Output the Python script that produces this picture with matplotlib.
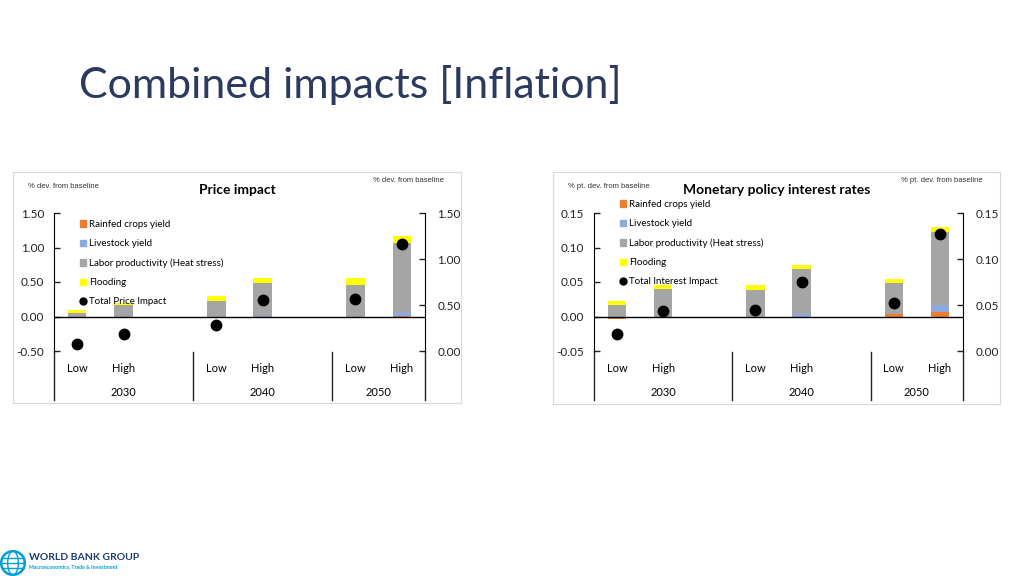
import numpy as np
import matplotlib
matplotlib.use('Agg')
import matplotlib.pyplot as plt
from matplotlib.patches import Rectangle, Patch
from matplotlib.lines import Line2D
import matplotlib.transforms as mtransforms

plt.rcParams['font.family'] = ['Lato', 'DejaVu Sans']

# ---- data ----
scenarios = ['Low', 'High', 'Low', 'High', 'Low', 'High']
years = ['2030', '2040', '2050']
slots = [0, 1, 3, 4, 6, 7]          # one blank slot between year groups

price_rainfed = [-0.01, -0.005, -0.005, 0.0, 0.0, 0.01]
price_livestock = [0.0, 0.0, 0.0, 0.01, 0.0, 0.05]
price_labor = [0.05, 0.16, 0.23, 0.47, 0.46, 1.005]
price_flood = [0.04, 0.03, 0.07, 0.075, 0.095, 0.095]
price_total = [0.08, 0.19, 0.28, 0.55, 0.56, 1.16]     # right axis

rate_rainfed = [-0.003, -0.002, 0.0, 0.0, 0.004, 0.007]
rate_livestock = [0.0, 0.0, 0.0, 0.004, 0.0, 0.009]
rate_labor = [0.016, 0.040, 0.039, 0.065, 0.044, 0.106]
rate_flood = [0.006, 0.005, 0.006, 0.006, 0.006, 0.007]
rate_total = [0.019, 0.043, 0.045, 0.075, 0.0525, 0.1275]  # right axis

COLORS = {'rain': '#ED7D31', 'live': '#8EA9DB', 'labor': '#A5A5A5', 'flood': '#FFFF00'}
W, H = 1024, 576


def fx(px):
    return px / W


def fy(py):
    return 1 - py / H


def draw_panel(fig, box, axbox, comps, total, lims, title, unit, total_label, leg_xy):
    # light frame around the chart
    x0, y0, x1, y1 = box
    fig.patches.append(Rectangle((fx(x0), fy(y1)), fx(x1 - x0), (y1 - y0) / H,
                                 transform=fig.transFigure, fill=False,
                                 ec='#D9D9D9', lw=0.8))
    ax_l, ax_r, ax_t, ax_b = axbox
    ax = fig.add_axes([fx(ax_l), fy(ax_b), fx(ax_r - ax_l), (ax_b - ax_t) / H])
    ax2 = ax.twinx()

    pos_bottom = np.zeros(len(slots))
    neg_bottom = np.zeros(len(slots))
    names = ['Rainfed crops yield', 'Livestock yield', 'Labor productivity (Heat stress)', 'Flooding']
    keys = ['rain', 'live', 'labor', 'flood']
    for vals, key in zip(comps, keys):
        v = np.array(vals)
        bottom = np.where(v >= 0, pos_bottom, neg_bottom)
        ax.bar(slots, v, bottom=bottom, width=0.4, color=COLORS[key], lw=0, zorder=2)
        pos_bottom += np.where(v >= 0, v, 0)
        neg_bottom += np.where(v < 0, v, 0)

    ax2.plot(slots, total, 'o', color='black', ms=7.5, zorder=5)

    (lmin, lmax, lstep), (rmin, rmax, rstep) = lims
    ax.set_ylim(lmin, lmax)
    ax.set_yticks(np.arange(lmin, lmax + lstep / 2, lstep))
    ax2.set_ylim(rmin, rmax)
    ax2.set_yticks(np.arange(rmin, rmax + rstep / 2, rstep))
    ax.set_xlim(-0.5, 7.5)
    ax.set_xticks([])
    ax.axhline(0, color='black', lw=1, zorder=3)

    for a in (ax, ax2):
        for s in ('top', 'bottom'):
            a.spines[s].set_visible(False)
        a.tick_params(axis='y', direction='in', length=4, width=1, labelsize=8.5, colors='#222222')
        a.yaxis.set_major_formatter(matplotlib.ticker.FormatStrFormatter('%.2f'))
        a.set_facecolor('none')
    ax.spines['right'].set_visible(False)
    ax2.spines['left'].set_visible(False)
    ax.tick_params(axis='y', pad=7)
    ax2.tick_params(axis='y', pad=9)

    # category labels below the plot
    trans = mtransforms.blended_transform_factory(ax.transData, fig.transFigure)
    for s, lab in zip(slots, scenarios):
        ax.text(s, fy(368), lab, transform=trans, ha='center', va='center', fontsize=8)
    for i, yr in enumerate(years):
        xc = [1, 4, 6.5][i]
        ax.text(xc, fy(392), yr, transform=trans, ha='center', va='center', fontsize=8)
    for xs, ytop in [(-0.5, ax_b), (2.5, 352), (5.5, 352), (7.5, ax_b)]:
        ax.add_line(Line2D([xs, xs], [fy(ytop), fy(400)], transform=trans,
                           color='#222222', lw=1, clip_on=False))

    # titles and unit notes
    fig.text(fx((x0 + x1) / 2), fy(190), title, ha='center', va='center',
             fontsize=10, fontweight='bold')
    fig.text(fx(x0 + 15), fy(186), unit, ha='left', va='center', fontsize=5.5,
             family='Liberation Sans', color='#333333')
    fig.text(fx(x1 - 17), fy(181), unit, ha='right', va='center', fontsize=5.5,
             family='Liberation Sans', color='#333333')

    handles = [Patch(color=COLORS[k]) for k in keys]
    handles.append(Line2D([], [], marker='o', color='black', ls='none', ms=5))
    fig.legend(handles, names + [total_label], loc='upper left',
               bbox_to_anchor=(fx(leg_xy[0]), fy(leg_xy[1])), frameon=False,
               fontsize=7, handlelength=0.6, handleheight=0.6, handletextpad=0.3,
               labelspacing=1.05, borderpad=0, borderaxespad=0)
    return ax, ax2


fig = plt.figure(figsize=(W / 100, H / 100), dpi=100)

fig.text(fx(79), fy(85), 'Combined impacts [Inflation]', ha='left', va='center',
         fontsize=31, color='#2B3A5E')

draw_panel(fig, (13, 172, 461, 403), (54, 425, 213, 351),
           [price_rainfed, price_livestock, price_labor, price_flood], price_total,
           ((-0.5, 1.5, 0.5), (0.0, 1.5, 0.5)), 'Price impact',
           '% dev. from baseline', 'Total Price Impact', (80, 220))

draw_panel(fig, (553, 172, 1000, 404), (594, 963, 213, 351),
           [rate_rainfed, rate_livestock, rate_labor, rate_flood], rate_total,
           ((-0.05, 0.15, 0.05), (0.0, 0.15, 0.05)), 'Monetary policy interest rates',
           '% pt. dev. from baseline', 'Total Interest Impact', (620, 200))

# logo: globe mark + wordmark
lax = fig.add_axes([0, fy(576), fx(26), 26 / H])
lax.set_aspect('equal')
lax.set_xlim(-1.1, 1.1)
lax.set_ylim(-1.1, 1.1)
lax.axis('off')
t = np.linspace(0, 2 * np.pi, 100)
lax.plot(np.cos(t), np.sin(t), color='#009FDA', lw=1.8)
lax.plot(0.45 * np.cos(t), np.sin(t), color='#009FDA', lw=1)
lax.plot([-1, 1], [0, 0], color='#009FDA', lw=1)
lax.plot([-0.9, 0.9], [0.45, 0.45], color='#009FDA', lw=1)
lax.plot([-0.9, 0.9], [-0.45, -0.45], color='#009FDA', lw=1)
fig.text(fx(29), fy(557), 'WORLD BANK GROUP', ha='left', va='center', fontsize=7.5,
         fontweight='bold', color='#1B3C6E')
fig.text(fx(29), fy(567), 'Macroeconomics, Trade & Investment', ha='left', va='center',
         fontsize=3.8, color='#009FDA', fontweight='bold')

fig.savefig('out.png', dpi=100)
